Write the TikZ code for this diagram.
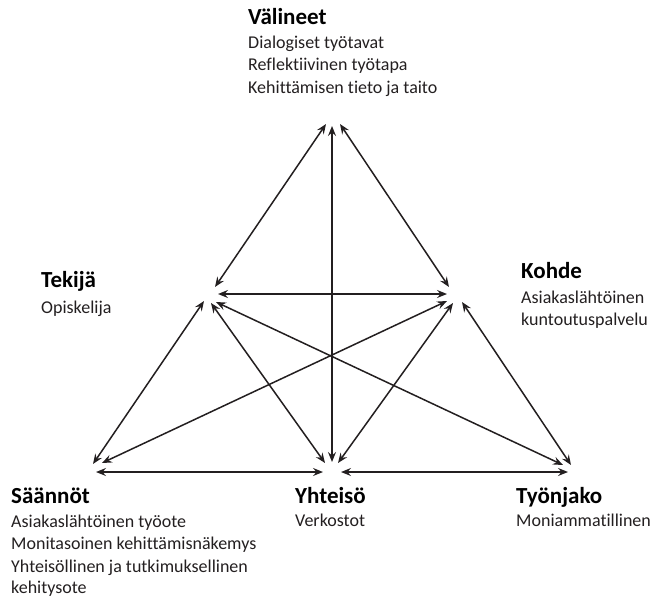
\documentclass[tikz,border=0pt]{standalone}
\usepackage{fontspec}
\setmainfont{Carlito}[Ligatures=CommonOff]
\usetikzlibrary{arrows.meta}
\definecolor{ink}{HTML}{231F20}
\begin{document}
\begin{tikzpicture}[x=1pt,y=-1pt,
  tip/.tip={Stealth[length=10pt,width=8pt,inset=3.5pt]},
  link/.style={draw=ink, line width=1.5pt, tip-tip},
  head/.style={anchor=base west, inner sep=0pt, text=black,
    font=\fontsize{23}{27}\selectfont\bfseries},
  body/.style={anchor=base west, inner sep=0pt, text=ink,
    font=\fontsize{18}{22}\selectfont}]
\useasboundingbox (0,0) rectangle (655,599);

% --- labels of the six corners ---
\node[head] (valineet) at (248,25) {Välineet};
\node[body] (valineet1) at (248,49) {Dialogiset työtavat};
\node[body] (valineet2) at (248,71) {Reflektiivinen työtapa};
\node[body] (valineet3) at (248,94) {Kehittämisen tieto ja taito};

\node[head] (tekija) at (41,287) {Tekijä};
\node[body] (tekija1) at (41,313) {Opiskelija};

\node[head] (kohde) at (521,278) {Kohde};
\node[body] (kohde1) at (521,303) {Asiakaslähtöinen};
\node[body] (kohde2) at (521,325) {kuntoutuspalvelu};

\node[head] (saannot) at (11,503) {Säännöt};
\node[body] (saannot1) at (11,527) {Asiakaslähtöinen työote};
\node[body] (saannot2) at (11,549) {Monitasoinen kehittämisnäkemys};
\node[body] (saannot3) at (11,572) {Yhteisöllinen ja tutkimuksellinen};
\node[body] (saannot4) at (11,593) {kehitysote};

\node[head] (yhteiso) at (295,503) {Yhteisö};
\node[body] (yhteiso1) at (295,526) {Verkostot};

\node[head] (tyonjako) at (516,503) {Työnjako};
\node[body] (tyonjako1) at (516,526) {Moniammatillinen};

% --- arrow ends around each corner ---
% Välineet (top)
\coordinate (VTk) at (326,124);
\coordinate (VKo) at (340,124);
\coordinate (VYh) at (332,126);
% Tekijä
\coordinate (TkV)  at (215,287);
\coordinate (TkKo) at (218,294);
\coordinate (TkSa) at (204,301);
\coordinate (TkYh) at (211,303);
\coordinate (TkTy) at (216,302);
% Kohde
\coordinate (KoV)  at (449,287);
\coordinate (KoTk) at (447,294);
\coordinate (KoSa) at (447,301);
\coordinate (KoYh) at (453,303);
\coordinate (KoTy) at (462,302);
% Säännöt
\coordinate (SaTk) at (93,464);
\coordinate (SaKo) at (102,463);
\coordinate (SaYh) at (96,472);
% Yhteisö
\coordinate (YhTk) at (325,463);
\coordinate (YhV)  at (332,462);
\coordinate (YhKo) at (338,463);
\coordinate (YhSa) at (323,472);
\coordinate (YhTy) at (341,472);
% Työnjako
\coordinate (TyTk) at (563,465);
\coordinate (TyKo) at (571,465);
\coordinate (TyYh) at (568,472);

% --- two-way relations ---
\draw[link] (VTk) -- (TkV);
\draw[link] (VKo) -- (KoV);
\draw[link] (VYh) -- (YhV);
\draw[link] (TkKo) -- (KoTk);
\draw[link] (TkSa) -- (SaTk);
\draw[link] (TkYh) -- (YhTk);
\draw[link] (TkTy) -- (TyTk);
\draw[link] (KoSa) -- (SaKo);
\draw[link] (KoYh) -- (YhKo);
\draw[link] (KoTy) -- (TyKo);
\draw[link] (SaYh) -- (YhSa);
\draw[link] (YhTy) -- (TyYh);
\end{tikzpicture}
\end{document}
